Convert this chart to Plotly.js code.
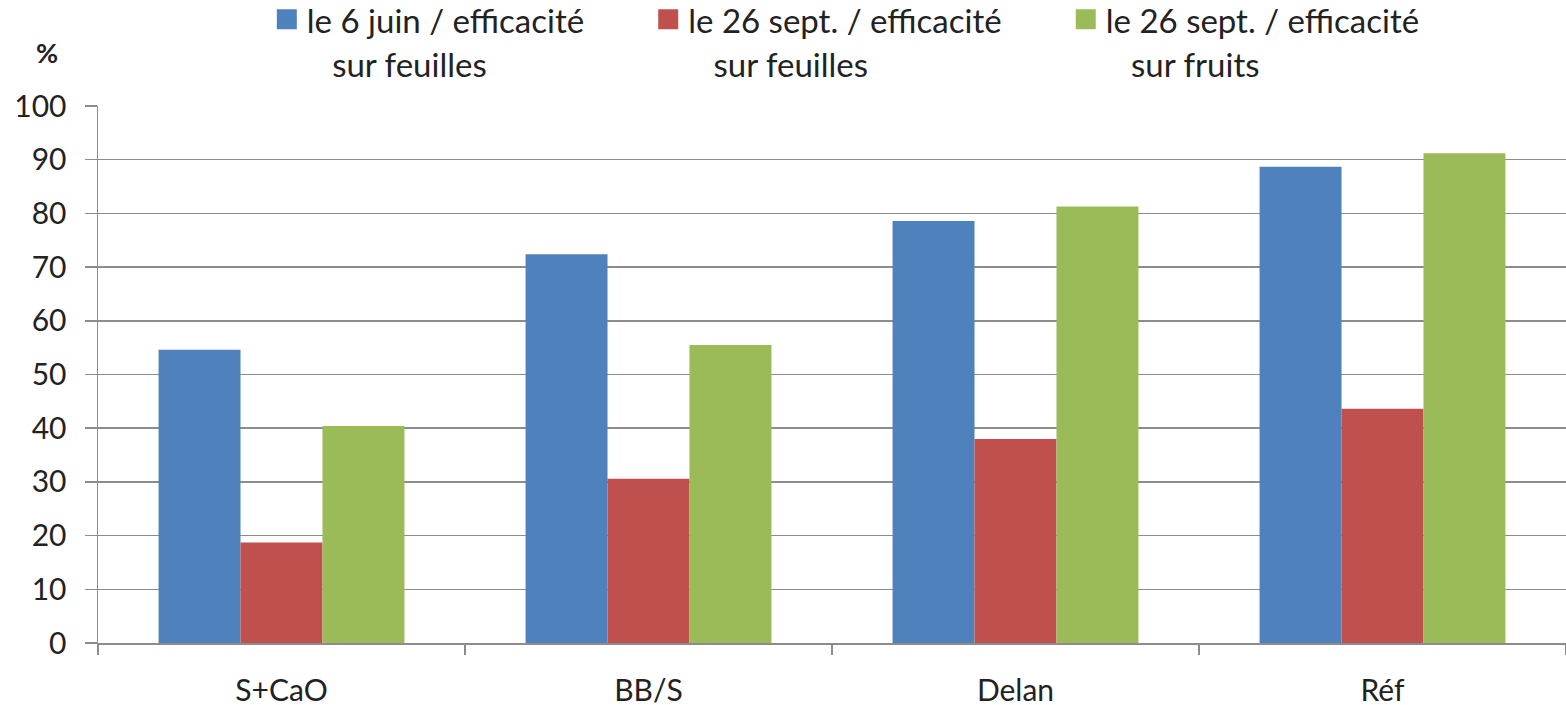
<!DOCTYPE html>
<html>
<head>
<meta charset="utf-8">
<script src="https://cdn.plot.ly/plotly-3.0.1.min.js"></script>
<style>html,body{margin:0;padding:0;background:#fff;}#chart{width:1566px;height:705px;} text{font-variant-ligatures:none;}</style>
</head>
<body>
<div id="chart"></div>
<script>
const categories = ["S+CaO", "BB/S", "Delan", "Réf"];
const legendLine1 = ["le 6 juin / efficacité", "le 26 sept. / efficacité", "le 26 sept. / efficacité"];
const legendLine2 = ["sur feuilles", "sur feuilles", "sur fruits"];
const juinFeuilles = [54.6, 72.4, 78.6, 88.7];
const septFeuilles = [18.7, 30.6, 38.0, 43.6];
const septFruits = [40.4, 55.5, 81.3, 91.2];
const colors = ["#4F81BD", "#C0504D", "#9BBB59"];
const yTicks = [0, 10, 20, 30, 40, 50, 60, 70, 80, 90, 100];

const FONT = "Lato, 'Open Sans', sans-serif";
const NB = "\u00A0";
const trailPad = [7, 7, 7];
function legendName(i) {
  return '<span style="font-size:33px">' + legendLine1[i] + NB.repeat(trailPad[i]) + '</span><br>' +
         '<span style="font-size:33px">' + NB.repeat(3) + legendLine2[i] + '</span>';
}
const allValues = [juinFeuilles, septFeuilles, septFruits];
const traces = allValues.map((vals, i) => ({
  type: "bar",
  name: legendName(i),
  x: categories,
  y: vals,
  marker: {color: colors[i], line: {width: 0}},
  hoverinfo: "x+y"
}));

const layout = {
  width: 1566, height: 705,
  margin: {l: 98, r: 0, t: 106, b: 62, autoexpand: false},
  paper_bgcolor: "#ffffff", plot_bgcolor: "#ffffff",
  font: {family: FONT, color: "#222222", size: 30},
  barmode: "group", bargap: 0.33, bargroupgap: 0,
  xaxis: {
    type: "category", tickson: "boundaries", ticks: "outside", ticklen: 10,
    tickcolor: "#8c8c8c", tickwidth: 1.5, showline: true, linecolor: "#8c8c8c", linewidth: 1.5,
    showgrid: false, tickfont: {size: 30, family: FONT, color: "#222"}, ticklabelstandoff: 20
  },
  yaxis: {
    range: [0, 100], tickvals: yTicks, ticks: "outside", ticklen: 12,
    tickcolor: "#8c8c8c", tickwidth: 1.5, showline: true, linecolor: "#8c8c8c", linewidth: 1.5,
    showgrid: true, gridcolor: "#8c8c8c", gridwidth: 1.5, zeroline: false,
    tickfont: {size: 30, family: FONT, color: "#222"}, ticklabelstandoff: 12
  },
  legend: {
    orientation: "h", xref: "paper", yref: "paper",
    x: 0.115, y: 1.2146, xanchor: "left", yanchor: "top", valign: "top",
    font: {size: 34, family: FONT, color: "#222"}, bgcolor: "rgba(0,0,0,0)"
  },
  annotations: [{
    text: "<b>%</b>", xref: "paper", yref: "paper", x: -0.0347, y: (643 - 52) / 537,
    xanchor: "center", yanchor: "middle", showarrow: false,
    font: {size: 27, family: FONT, color: "#222"}
  }]
};

Plotly.newPlot("chart", traces, layout, {displayModeBar: false, staticPlot: true}).then(() => {
  document.querySelectorAll(".legendpoints path").forEach(p => {
    p.setAttribute("d", "M10,10H-10V-10H10Z");
  });
});
</script>
</body>
</html>
